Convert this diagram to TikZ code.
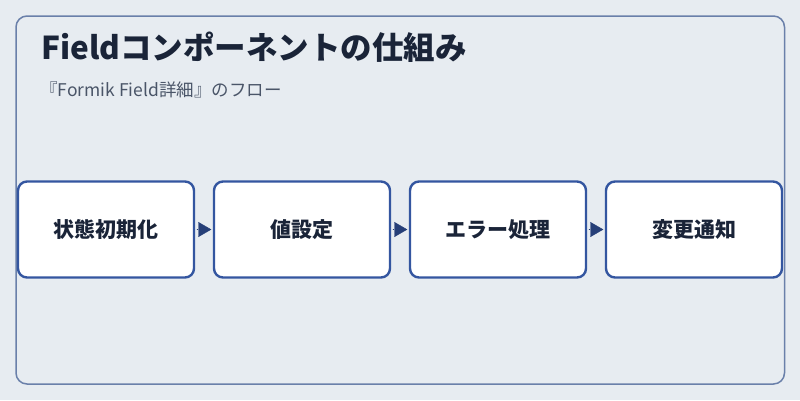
\documentclass[tikz,border=0pt]{standalone}
\usepackage{fontspec}
\setmainfont{Noto Sans CJK JP}
\usetikzlibrary{arrows.meta}
\definecolor{bgc}{HTML}{E7ECF1}
\definecolor{framec}{HTML}{6A80AA}
\definecolor{boxc}{HTML}{3456A0}
\definecolor{titlec}{HTML}{1A2438}
\definecolor{subc}{HTML}{4A5568}
\definecolor{arrowc}{HTML}{263F78}
\tikzset{
  stepbox/.style={draw=boxc, line width=2.4pt, fill=white, rounded corners=9pt,
    minimum width=176pt, minimum height=96pt, inner sep=0pt,
    font=\fontsize{21}{24}\selectfont\bfseries, text=titlec},
  flowarrow/.style={draw=arrowc, fill=arrowc, line width=0.4pt,
    -{Triangle[length=13pt,width=15pt]}, shorten <=1.5pt, shorten >=1.5pt}
}
\begin{document}
\begin{tikzpicture}[x=1pt,y=-1pt]
\useasboundingbox (0,0) rectangle (800,400);
\fill[bgc] (0,0) rectangle (800,400);
\draw[framec, line width=1.5pt, rounded corners=11pt] (16,16) rectangle (784.5,384);
\node[anchor=base west, text=titlec, font=\fontsize{31.5}{36}\selectfont\bfseries, inner sep=0pt] (title) at (41,59) {Fieldコンポーネントの仕組み};
\node[anchor=base west, text=subc, font=\fontsize{17.5}{20}\selectfont, inner sep=0pt] (sub) at (40,96) {『Formik Field詳細』のフロー};
\node[stepbox] (s1) at (106,229.5) {状態初期化};
\node[stepbox] (s2) at (302,229.5) {値設定};
\node[stepbox] (s3) at (498,229.5) {エラー処理};
\node[stepbox] (s4) at (694,229.5) {変更通知};
\draw[flowarrow] (s1.east) -- (s2.west);
\draw[flowarrow] (s2.east) -- (s3.west);
\draw[flowarrow] (s3.east) -- (s4.west);
\end{tikzpicture}
\end{document}
